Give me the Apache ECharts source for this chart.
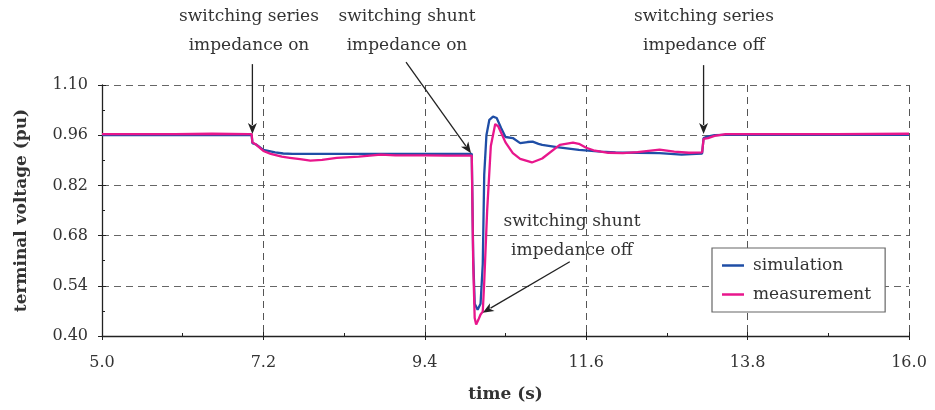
<!DOCTYPE html>
<html>
<head>
<meta charset="utf-8">
<script src="https://cdn.jsdelivr.net/npm/echarts@6/dist/echarts.min.js"></script>
<style>html,body{margin:0;padding:0;background:#fff;}#c{width:935px;height:410px;}</style>
</head>
<body>
<div id="c"></div>
<script>
// ---- data (time in s, terminal voltage in pu) ----
const simTime = [5.0,6.0,7.0,7.04,7.05,7.1,7.2,7.36,7.47,7.6,8.0,8.5,9.0,9.5,10.0,10.04,10.06,10.08,10.12,10.16,10.19,10.21,10.24,10.28,10.33,10.38,10.44,10.5,10.6,10.7,10.8,10.87,10.95,11.0,11.2,11.5,11.8,12.0,12.3,12.6,12.9,13.1,13.18,13.2,13.25,13.35,13.5,14.0,15.0,16.0];
const simVolt = [0.960,0.960,0.960,0.960,0.938,0.934,0.919,0.912,0.909,0.908,0.908,0.908,0.908,0.908,0.908,0.908,0.62,0.49,0.473,0.49,0.60,0.85,0.96,1.003,1.012,1.008,0.98,0.955,0.952,0.938,0.941,0.942,0.936,0.933,0.927,0.919,0.914,0.912,0.911,0.910,0.906,0.908,0.909,0.952,0.956,0.960,0.961,0.961,0.961,0.961];
const measTime = [5.0,6.0,6.5,7.0,7.04,7.05,7.1,7.2,7.3,7.45,7.56,7.7,7.84,8.0,8.2,8.5,8.8,9.0,9.4,9.7,10.0,10.04,10.06,10.08,10.1,10.13,10.16,10.19,10.21,10.25,10.3,10.36,10.4,10.5,10.6,10.7,10.86,11.0,11.24,11.42,11.5,11.6,11.7,11.9,12.1,12.3,12.6,12.8,13.0,13.18,13.2,13.26,13.35,13.5,14.0,15.0,16.0];
const measVolt = [0.963,0.963,0.964,0.963,0.963,0.940,0.934,0.916,0.908,0.900,0.897,0.893,0.889,0.891,0.897,0.900,0.906,0.904,0.904,0.903,0.903,0.903,0.60,0.45,0.432,0.445,0.46,0.468,0.55,0.75,0.93,0.991,0.985,0.94,0.91,0.894,0.884,0.895,0.933,0.939,0.936,0.925,0.918,0.911,0.910,0.913,0.920,0.914,0.911,0.912,0.950,0.952,0.958,0.963,0.963,0.963,0.964];
const seriesNames = ['simulation','measurement'];
const xTickLabels = ['5.0','7.2','9.4','11.6','13.8','16.0'];
const yTickLabels = ['0.40','0.54','0.68','0.82','0.96','1.10'];
const annotations = [
  {lines:['switching series','impedance on'], tip:[7.05,0.963]},
  {lines:['switching shunt','impedance on'], tip:[10.03,0.910]},
  {lines:['switching series','impedance off'], tip:[13.2,0.963]},
  {lines:['switching shunt','impedance off'], tip:[10.19,0.465]}
];

// axis offsets: the axes run from 0 so interval ticks start at the first label
const X0 = parseFloat(xTickLabels[0]), XSTEP = parseFloat(xTickLabels[1]) - X0, XMAX = parseFloat(xTickLabels[xTickLabels.length-1]);
const Y0 = parseFloat(yTickLabels[0]), YSTEP = parseFloat(yTickLabels[1]) - Y0, YMAX = parseFloat(yTickLabels[yTickLabels.length-1]);
const toPts = (ts, vs) => ts.map((t, i) => [t - X0, vs[i] - Y0]);

const FONT = 'DejaVu Serif';
const chart = echarts.init(document.getElementById('c'), null, {renderer:'canvas'});
const baseX = {type:'value', min:0, max:+(XMAX-X0).toFixed(6), interval:+XSTEP.toFixed(6)};
const baseY = {type:'value', min:0, max:+(YMAX-Y0).toFixed(6), interval:+YSTEP.toFixed(6)};
const option = {
  animation:false,
  backgroundColor:'#fff',
  grid:{left:102, right:26, top:85, bottom:74, containLabel:false},
  xAxis:[
    Object.assign({}, baseX, {
      position:'bottom',
      name:'time (s)', nameLocation:'middle', nameGap:50,
      nameTextStyle:{fontFamily:FONT, fontWeight:'bold', fontSize:17, color:'#333'},
      axisLine:{show:true, onZero:false, lineStyle:{color:'#222', width:1.3}},
      axisTick:{show:true, inside:false, length:4, lineStyle:{color:'#222'}},
      axisLabel:{fontFamily:FONT, fontSize:16, color:'#333', margin:19,
        formatter:(v)=>(v+X0).toFixed(1)},
      splitLine:{show:true, lineStyle:{color:'#555', type:[7,5], width:1}}
    }),
    Object.assign({}, baseX, {
      position:'bottom',
      axisLine:{show:false}, axisLabel:{show:false}, splitLine:{show:false},
      axisTick:{show:true, inside:true, length:4, lineStyle:{color:'#222'}},
      minorTick:{show:true, splitNumber:2, length:3, lineStyle:{color:'#222'}}
    })
  ],
  yAxis:[
    Object.assign({}, baseY, {
      position:'left',
      name:'terminal voltage (pu)', nameLocation:'middle', nameGap:72,
      nameTextStyle:{fontFamily:FONT, fontWeight:'bold', fontSize:17, color:'#333'},
      axisLine:{show:true, onZero:false, lineStyle:{color:'#222', width:1.3}},
      axisTick:{show:true, inside:false, length:4, lineStyle:{color:'#222'}},
      axisLabel:{fontFamily:FONT, fontSize:16, color:'#333', margin:14,
        formatter:(v)=>(v+Y0).toFixed(2)},
      splitLine:{show:true, lineStyle:{color:'#666', type:[7,5], width:1}}
    }),
    Object.assign({}, baseY, {
      position:'left',
      axisLine:{show:false}, axisLabel:{show:false}, splitLine:{show:false},
      axisTick:{show:true, inside:true, length:4, lineStyle:{color:'#222'}},
      minorTick:{show:true, splitNumber:2, length:3, lineStyle:{color:'#222'}}
    })
  ],
  legend:{
    show:true, orient:'vertical', left:712, top:248,
    data:seriesNames,
    icon:'rect', itemWidth:22, itemHeight:2.5, itemGap:12,
    padding:[9,14,9,10],
    backgroundColor:'#fff', borderColor:'#666', borderWidth:1.2, borderRadius:0,
    textStyle:{fontFamily:FONT, fontSize:17, color:'#333', padding:[0,0,0,4]}
  },
  series:[
    {name:seriesNames[0], type:'line', showSymbol:false, symbol:'none', z:3,
     data:toPts(simTime, simVolt), color:'#1f4ea6',
     lineStyle:{color:'#1f4ea6', width:2.3}},
    {name:seriesNames[1], type:'line', showSymbol:false, symbol:'none', z:4,
     data:toPts(measTime, measVolt), color:'#e8168c',
     lineStyle:{color:'#e8168c', width:2.3}}
  ]
};
chart.setOption(option);

// annotation text + arrows (tips located through the chart's own coordinate system)
const textPos = [ [249,17], [407,17], [704,17], [572,222] ];
const tailOffsets = [ [0,-70], [-65,-91], [0,-69], [87,-51] ];
const graphics = [];
annotations.forEach((a, i) => {
  const [cx, cy] = textPos[i];
  a.lines.forEach((ln, j) => {
    graphics.push({type:'text', x:cx, y:cy + j*29, z:100,
      style:{text:ln, fontFamily:FONT, fontSize:17, fill:'#333', align:'center', verticalAlign:'middle'}});
  });
  const tip = chart.convertToPixel({xAxisIndex:0, yAxisIndex:0}, [a.tip[0]-X0, a.tip[1]-Y0]);
  const tail = [tip[0] + tailOffsets[i][0], tip[1] + tailOffsets[i][1]];
  const dx = tip[0]-tail[0], dy = tip[1]-tail[1], L = Math.hypot(dx,dy);
  const ux = dx/L, uy = dy/L, hl = 11, hw = 4.5;
  const base = [tip[0]-ux*hl, tip[1]-uy*hl];
  graphics.push({type:'line', z:100, shape:{x1:tail[0], y1:tail[1], x2:base[0]+ux*2, y2:base[1]+uy*2},
    style:{stroke:'#222', lineWidth:1.3}});
  graphics.push({type:'polygon', z:100, shape:{points:[tip,[base[0]-uy*hw, base[1]+ux*hw],[base[0]+ux*3, base[1]+uy*3],[base[0]+uy*hw, base[1]-ux*hw]]},
    style:{fill:'#222'}});
});
chart.setOption({graphic:graphics});
</script>
</body>
</html>
